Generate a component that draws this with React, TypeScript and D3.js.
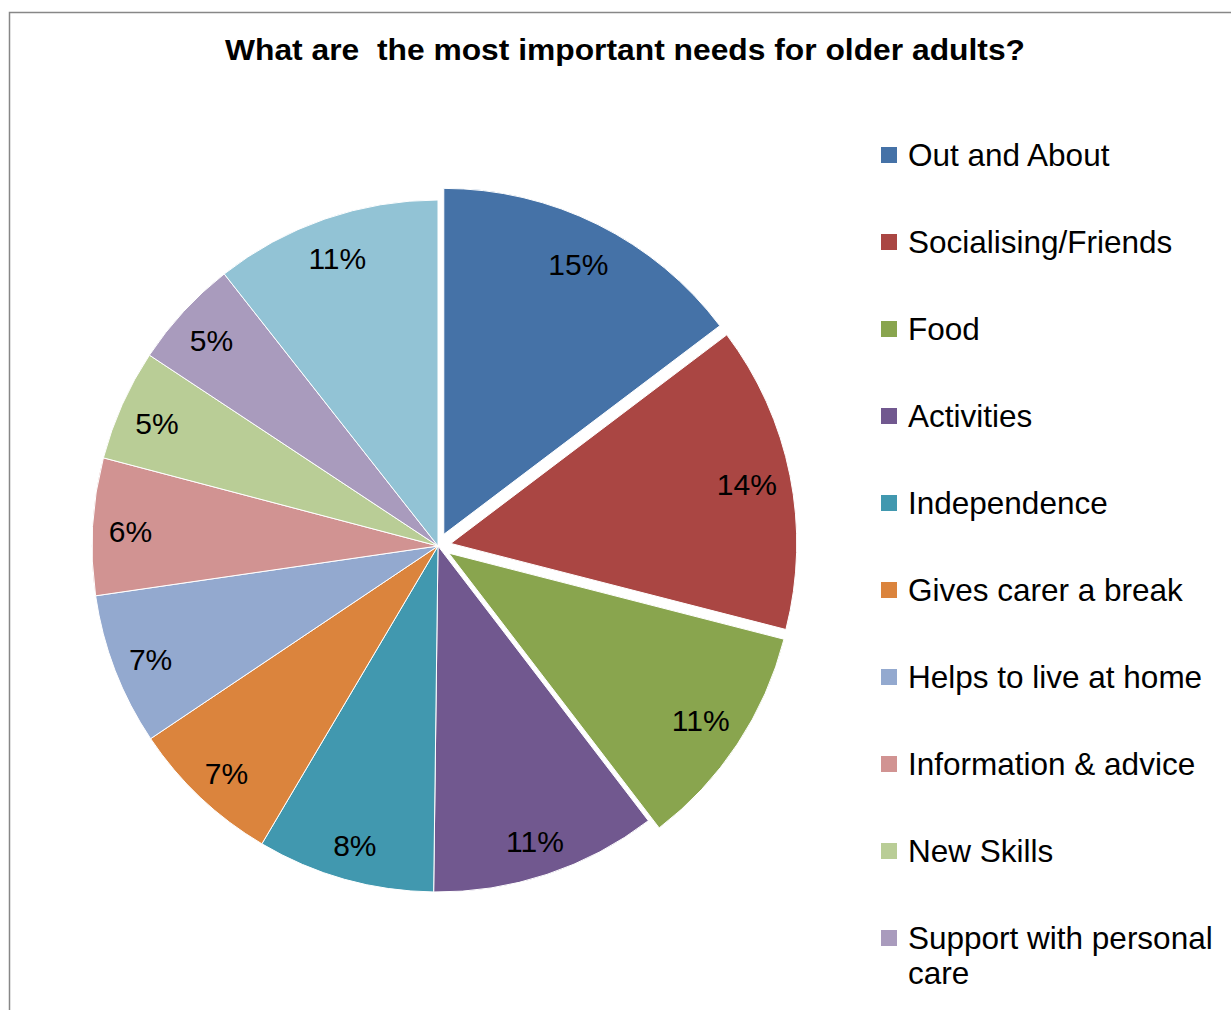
import React from "react";
import * as d3 from "d3";

const categories = [
  "Out and About",
  "Socialising/Friends",
  "Food",
  "Activities",
  "Independence",
  "Gives carer a break",
  "Helps to live at home",
  "Information & advice",
  "New Skills",
  "Support with personal care",
  "Other",
];
const values = [14.7, 14.3, 10.6, 10.6, 8.3, 7.1, 7.1, 6.4, 5.2, 5.1, 10.6];
const colors = [
  "#4572A7",
  "#AA4643",
  "#89A54E",
  "#71588F",
  "#4198AF",
  "#DB843D",
  "#93A9CF",
  "#D19392",
  "#B9CD96",
  "#A99BBD",
  "#92C3D5",
];
const exploded = [true, true, true, false, false, false, false, false, false, false, false];
const legendLines = [
  ["Out and About"],
  ["Socialising/Friends"],
  ["Food"],
  ["Activities"],
  ["Independence"],
  ["Gives carer a break"],
  ["Helps to live at home"],
  ["Information & advice"],
  ["New Skills"],
  ["Support with personal", "care"],
  ["Other"],
];
const title = "What are\u00A0 the most important needs for older adults?";

export default function App() {
  const W = 1231;
  const H = 1010;
  const cx = 438;
  const cy = 546;
  const R = 346;
  const explode = 13;
  const labelRExploded = 302;
  const labelR = 308;
  const labelShiftY = 3;
  const total = d3.sum(values);

  const pie = d3
    .pie<number>()
    .sort(null)
    .value((d) => d)
    .startAngle(0)
    .endAngle(2 * Math.PI);
  const arcs = pie(values);
  const arc = d3.arc<d3.PieArcDatum<number>>().innerRadius(0).outerRadius(R);

  const legendY = d3.scaleLinear().domain([0, 1]).range([155, 242]);

  return (
    <svg
      width={W}
      height={H}
      style={{ position: "absolute", left: 0, top: 0, background: "#fff" }}
      fontFamily="'Liberation Sans', Arial, sans-serif"
    >
      <rect x={9.5} y={12.5} width={1300} height={1100} fill="#fff" stroke="#878787" strokeWidth={1.5} />
      <text
        x={625}
        y={60}
        textAnchor="middle"
        fontWeight="bold"
        fontSize={29}
        textLength={800}
        lengthAdjust="spacingAndGlyphs"
        fill="#000"
      >
        {title}
      </text>
      <g>
        {arcs.map((a, i) => {
          const mid = (a.startAngle + a.endAngle) / 2;
          const off = exploded[i] ? explode : 0;
          const ox = cx + Math.sin(mid) * off;
          const oy = cy - Math.cos(mid) * off;
          const r = exploded[i] ? labelRExploded : labelR;
          const lx = ox + Math.sin(mid) * r;
          const ly = oy - Math.cos(mid) * r + (exploded[i] ? 0 : labelShiftY);
          return (
            <g key={i}>
              <path
                d={arc(a) || ""}
                transform={`translate(${ox},${oy})`}
                fill={colors[i]}
                stroke="#fff"
                strokeWidth={1}
              />
              <text
                x={lx}
                y={ly}
                dy="0.36em"
                textAnchor="middle"
                fontSize={30}
                fill="#000"
              >
                {Math.round((values[i] / total) * 100) + "%"}
              </text>
            </g>
          );
        })}
      </g>
      <g>
        {categories.map((c, i) => {
          const y = legendY(i);
          if (y > H - 20) return null;
          return (
            <g key={c}>
              <rect x={881} y={y - 8} width={16} height={16} fill={colors[i]} />
              <text x={908} y={y} fontSize={31.5} fill="#000">
                {legendLines[i].map((ln, j) => (
                  <tspan key={j} x={908} dy={j === 0 ? "0.36em" : 35}>
                    {ln}
                  </tspan>
                ))}
              </text>
            </g>
          );
        })}
      </g>
    </svg>
  );
}
